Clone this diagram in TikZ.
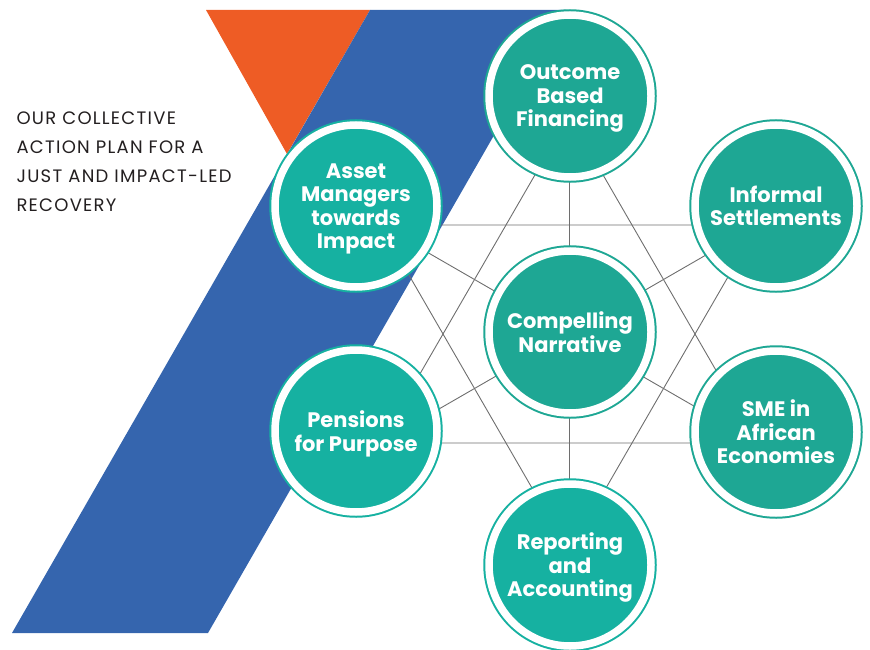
\documentclass[tikz,border=0pt]{standalone}
\usepackage{fontspec}
\setmainfont{Poppins}
\newfontfamily\capsfont[LetterSpace=7]{Poppins}
\definecolor{orng}{RGB}{238,92,37}
\definecolor{blu}{RGB}{53,101,174}
\definecolor{tealA}{RGB}{30,167,148}
\definecolor{tealB}{RGB}{22,177,161}
\definecolor{grayline}{RGB}{110,110,110}
\definecolor{ink}{RGB}{35,31,32}
\begin{document}
\begin{tikzpicture}[x=1pt,y=-1pt,
    bub/.style={circle, fill=#1, draw=#1, double=white, line width=2pt,
      double distance=7.5pt, minimum size=162pt, inner sep=0pt, text=white,
      text depth=-9pt, align=center,
      font=\bfseries\fontsize{21}{23.5}\selectfont},
    bub/.default=tealA,
    lnk/.style={draw=grayline, line width=0.9pt}]

    \useasboundingbox (0,0) rectangle (870,650);

    \fill [orng] (206,10) -- (370,10) -- (287,154) -- cycle;
    \fill [blu] (370,10) -- (566,10) -- (208,633) -- (12,633) -- cycle;

    \node (t) [anchor=north west, align=left, text=ink,
      font=\capsfont\fontsize{18}{29}\selectfont] at (13,108)
      {OUR COLLECTIVE\\ACTION PLAN FOR A\\JUST AND IMPACT-LED\\RECOVERY};

    \coordinate (c) at (569,334);
    \coordinate (h1) at (569,116);
    \coordinate (h2) at (758,225);
    \coordinate (h3) at (758,443);
    \coordinate (h4) at (569,552);
    \coordinate (h5) at (380,443);
    \coordinate (h6) at (380,225);

    \draw [lnk] (h1) -- (h3) -- (h5) -- cycle;
    \draw [lnk] (h2) -- (h4) -- (h6) -- cycle;
    \foreach \v in {h1,h2,h3,h4,h5,h6}
      \draw [lnk] (c) -- (\v);

    \node (m) [bub] at (570,332) {Compelling\\Narrative};
    \node (o) [bub] at (570,96) {Outcome\\Based\\Financing};
    \node (i) [bub] at (776,206) {Informal\\Settlements};
    \node (s) [bub] at (776,432) {SME in\\African\\Economies};
    \node (r) [bub=tealB] at (570,565) {Reporting\\and\\Accounting};
    \node (p) [bub=tealB] at (356,431) {Pensions\\for Purpose};
    \node (a) [bub=tealB] at (356,206) {Asset\\Managers\\towards\\Impact};

  \end{tikzpicture}
\end{document}
